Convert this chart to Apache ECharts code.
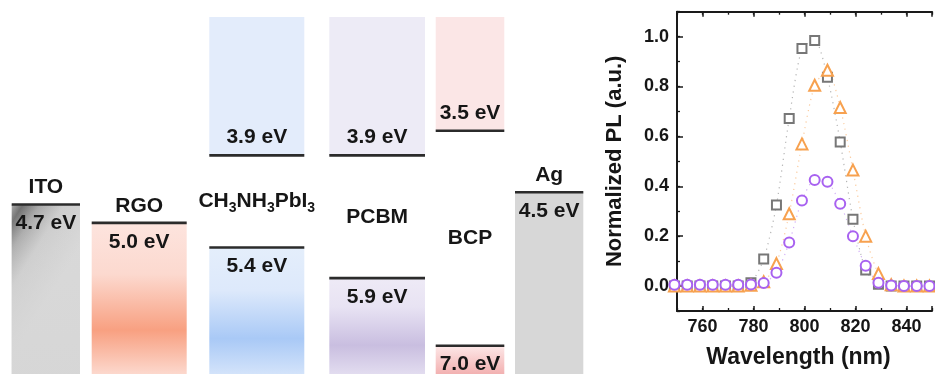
<!DOCTYPE html>
<html><head><meta charset="utf-8">
<script src="https://cdn.jsdelivr.net/npm/echarts@6/dist/echarts.min.js"></script>
<style>html,body{margin:0;padding:0;background:#fff;}#c{width:935px;height:374px;}</style>
</head><body><div id="c"></div>
<script>
// ===== Energy level diagram data (eV) =====
const materials   = ['ITO', 'RGO', 'CH3NH3PbI3', 'PCBM', 'BCP', 'Ag'];
const upperLevels = [null, null, 3.9, 3.9, 3.5, null];
const lowerLevels = [4.7, 5.0, 5.4, 5.9, 7.0, 4.5];

// ===== PL spectra data =====
const wavelengths = [749, 754, 759, 764, 769, 774, 779, 784, 789, 794, 799, 804, 809, 814, 819, 824, 829, 834, 839, 844, 849];
const plSquare    = [0, 0, 0, 0, 0, 0, 0.013, 0.108, 0.325, 0.672, 0.952, 0.985, 0.837, 0.578, 0.268, 0.064, 0.007, 0, 0, 0, 0];
const plTriangle  = [0, 0, 0, 0, 0, 0, 0.003, 0.017, 0.09, 0.29, 0.57, 0.805, 0.865, 0.716, 0.465, 0.2, 0.05, 0.005, 0, 0, 0];
const plCircle    = [0.005, 0.005, 0.005, 0.005, 0.005, 0.005, 0.006, 0.012, 0.053, 0.175, 0.343, 0.425, 0.418, 0.33, 0.2, 0.081, 0.013, 0.002, 0, 0, 0];
const xTickLabels = ['760', '780', '800', '820', '840'];
const yTickLabels = ['0.0', '0.2', '0.4', '0.6', '0.8', '1.0'];

// ===== layout & style =====
const FONT = 'Liberation Sans, Arial, Helvetica, sans-serif';
const TEXT_COLOR = '#161616';
const LINE_COLOR = '#2b2b2b';
const COLS = [[11.7, 80], [91.7, 186.7], [209.3, 304.3], [329.3, 425], [435.7, 504.3], [515, 583.3]];
const G = echarts.graphic.LinearGradient;
const UPPER_FILL = [null, null, '#e3ecfb', '#edebf6', '#fbe6e6', null];
const LOWER_FILL = [
  new G(0, 0, 1, 0.25, [{offset: 0, color: '#acacac'}, {offset: 0.12, color: '#707070'}, {offset: 0.3, color: '#a8a8a8'}, {offset: 0.55, color: '#cdcdcd'}, {offset: 1, color: '#d9d9d9'}]),
  new G(0, 0, 0, 1, [{offset: 0, color: '#fde4de'}, {offset: 0.34, color: '#fcd9cf'}, {offset: 0.71, color: '#f8a081'}, {offset: 1, color: '#fcd8cd'}]),
  new G(0, 0, 0, 1, [{offset: 0, color: '#e4eefb'}, {offset: 0.34, color: '#dde9fb'}, {offset: 0.72, color: '#a9c9f6'}, {offset: 1, color: '#d3e3fa'}]),
  new G(0, 0, 0, 1, [{offset: 0, color: '#eeeaf6'}, {offset: 0.3, color: '#e8e3f3'}, {offset: 0.7, color: '#c9bee0'}, {offset: 1, color: '#e2dcef'}]),
  new G(0, 0, 0, 1, [{offset: 0, color: '#fde8e8'}, {offset: 0.5, color: '#f8cccc'}, {offset: 1, color: '#f2b1b1'}]),
  '#d7d7d7'
];

function txt(x, y, s, size) {
  return {type: 'text', style: {text: s, x: x, y: y, fill: TEXT_COLOR, fontSize: size, fontWeight: 'bold', fontFamily: FONT, align: 'center', verticalAlign: 'middle'}};
}
function nameText(x, y, i) {
  if (materials[i] === 'CH3NH3PbI3') {
    return {type: 'text', style: {
      text: '{m|CH}{s|3}{m|NH}{s|3}{m|PbI}{s|3}', x: x, y: y, align: 'center', verticalAlign: 'middle',
      rich: {
        m: {fontSize: 21, fontWeight: 'bold', fontFamily: FONT, fill: TEXT_COLOR, lineHeight: 28, verticalAlign: 'middle'},
        s: {fontSize: 14, fontWeight: 'bold', fontFamily: FONT, fill: TEXT_COLOR, lineHeight: 14, verticalAlign: 'bottom'}
      }
    }};
  }
  return txt(x, y, materials[i], 21);
}

function renderItem(params, api) {
  const i = params.dataIndex;
  const cs = params.coordSys;
  const top = cs.y, bottom = cs.y + cs.height;
  const pl = api.coord([COLS[i][0], api.value(1)]);
  const pr = api.coord([COLS[i][1], api.value(1)]);
  const xl = pl[0], xr = pr[0], yLow = pl[1];
  const w = xr - xl, cx = (xl + xr) / 2;
  const boxes = [], lines = [], texts = [];
  boxes.push({type: 'rect', shape: {x: xl, y: yLow, width: w, height: bottom - yLow}, style: {fill: LOWER_FILL[i]}});
  if (i === 0) {
    boxes.push({type: 'rect', shape: {x: xl, y: yLow, width: w, height: bottom - yLow},
      style: {fill: new G(0, 0, 0, 1, [{offset: 0, color: 'rgba(214,214,214,0)'}, {offset: 0.45, color: 'rgba(214,214,214,0.35)'}, {offset: 1, color: 'rgba(214,214,214,0.85)'}])}});
  }
  lines.push({type: 'line', shape: {x1: xl, y1: yLow, x2: xr, y2: yLow}, style: {stroke: LINE_COLOR, lineWidth: 2.6}});
  texts.push(txt(cx, yLow + 19, lowerLevels[i].toFixed(1) + ' eV', 21));
  if (upperLevels[i] != null) {
    const yUp = api.coord([COLS[i][0], upperLevels[i]])[1];
    boxes.push({type: 'rect', shape: {x: xl, y: top, width: w, height: yUp - top}, style: {fill: UPPER_FILL[i]}});
    lines.push({type: 'line', shape: {x1: xl, y1: yUp, x2: xr, y2: yUp}, style: {stroke: LINE_COLOR, lineWidth: 2.6}});
    texts.push(txt(cx, yUp - 18, upperLevels[i].toFixed(1) + ' eV', 21));
    texts.push(nameText(cx, (yUp + yLow) / 2, i));
  } else {
    texts.push(nameText(cx, yLow - 17, i));
  }
  return {type: 'group', children: boxes.concat(lines, texts)};
}

const AX = '#1a1a1a';
const labelStyle = {fontSize: 18, fontWeight: 'bold', color: TEXT_COLOR, fontFamily: FONT};
function fmt(list) { return function (v) { const s = list === xTickLabels ? String(Math.round(v)) : v.toFixed(1); return list.indexOf(s) >= 0 ? s : ''; }; }
function pts(arr) { return wavelengths.map(function (w, k) { return [w, arr[k]]; }); }
function plSeries(data, symbol, color, lineColor, size) {
  return {
    type: 'line', xAxisIndex: 1, yAxisIndex: 1, data: pts(data), symbol: symbol, symbolSize: size,
    smooth: 0.25, clip: false, showAllSymbol: true,
    itemStyle: {color: color, borderWidth: 1.6},
    lineStyle: {type: [1.2, 4.5], width: 1.2, color: lineColor},
    emphasis: {disabled: true}
  };
}

const chart = echarts.init(document.getElementById('c'), null, {renderer: 'canvas'});
chart.setOption({
  animation: false,
  backgroundColor: '#fff',
  grid: [
    {left: 0, top: 17, width: 600, height: 357},
    {left: 677, top: 11.7, width: 266.7, height: 303.6}
  ],
  xAxis: [
    {gridIndex: 0, type: 'value', min: 0, max: 600, show: false},
    {gridIndex: 1, type: 'value', min: 750, max: 850, position: 'bottom',
      axisLine: {onZero: false, lineStyle: {color: AX, width: 2}},
      axisTick: {inside: true, length: 5, lineStyle: {color: AX, width: 1.5}},
      axisLabel: Object.assign({margin: 7, formatter: fmt(xTickLabels)}, labelStyle),
      splitLine: {show: false},
      name: 'Wavelength (nm)', nameLocation: 'middle', nameGap: 35,
      nameTextStyle: {fontSize: 23, fontWeight: 'bold', color: TEXT_COLOR, fontFamily: FONT, padding: [0, 12, 0, 0]}},
    {gridIndex: 1, type: 'value', min: 750, max: 850, interval: 10, position: 'bottom',
      axisLine: {show: false, onZero: false}, axisTick: {inside: true, length: 3, lineStyle: {color: AX, width: 1.3}},
      axisLabel: {show: false}, splitLine: {show: false}},
    {gridIndex: 1, type: 'value', min: 750, max: 850, position: 'top',
      axisLine: {onZero: false, lineStyle: {color: AX, width: 2}},
      axisTick: {inside: true, length: 5, lineStyle: {color: AX, width: 1.5}},
      axisLabel: {show: false}, splitLine: {show: false}},
    {gridIndex: 1, type: 'value', min: 750, max: 850, interval: 10, position: 'top',
      axisLine: {show: false, onZero: false}, axisTick: {inside: true, length: 3, lineStyle: {color: AX, width: 1.3}},
      axisLabel: {show: false}, splitLine: {show: false}}
  ],
  yAxis: [
    {gridIndex: 0, type: 'value', inverse: true, min: 1.647, max: 7.461, show: false},
    {gridIndex: 1, type: 'value', min: -0.1, max: 1.1, position: 'left',
      axisLine: {show: true, onZero: false, lineStyle: {color: AX, width: 2}},
      axisTick: {show: true, inside: true, length: 6, lineStyle: {color: AX, width: 1.5}},
      axisLabel: Object.assign({margin: 8, formatter: fmt(yTickLabels)}, labelStyle),
      splitLine: {show: false},
      name: 'Normalized PL (a.u.)', nameLocation: 'middle', nameGap: 51,
      nameTextStyle: {fontSize: 22, fontWeight: 'bold', color: TEXT_COLOR, fontFamily: FONT}},
    {gridIndex: 1, type: 'value', min: -0.1, max: 1.1, interval: 0.1, position: 'left',
      axisLine: {show: false, onZero: false}, axisTick: {show: true, inside: true, length: 3, lineStyle: {color: AX, width: 1.3}},
      axisLabel: {show: false}, splitLine: {show: false}}
  ],
  series: [
    {type: 'custom', xAxisIndex: 0, yAxisIndex: 0, renderItem: renderItem, clip: false,
      data: materials.map(function (m, i) { return [i, lowerLevels[i]]; })},
    plSeries(plSquare, 'emptyRect', '#777777', 'rgba(120,120,120,0.55)', 9),
    plSeries(plTriangle, 'emptyTriangle', '#f7a14f', 'rgba(247,161,79,0.55)', 11),
    plSeries(plCircle, 'emptyCircle', '#a862f0', 'rgba(168,98,240,0.5)', 10)
  ]
});
</script>
</body></html>
